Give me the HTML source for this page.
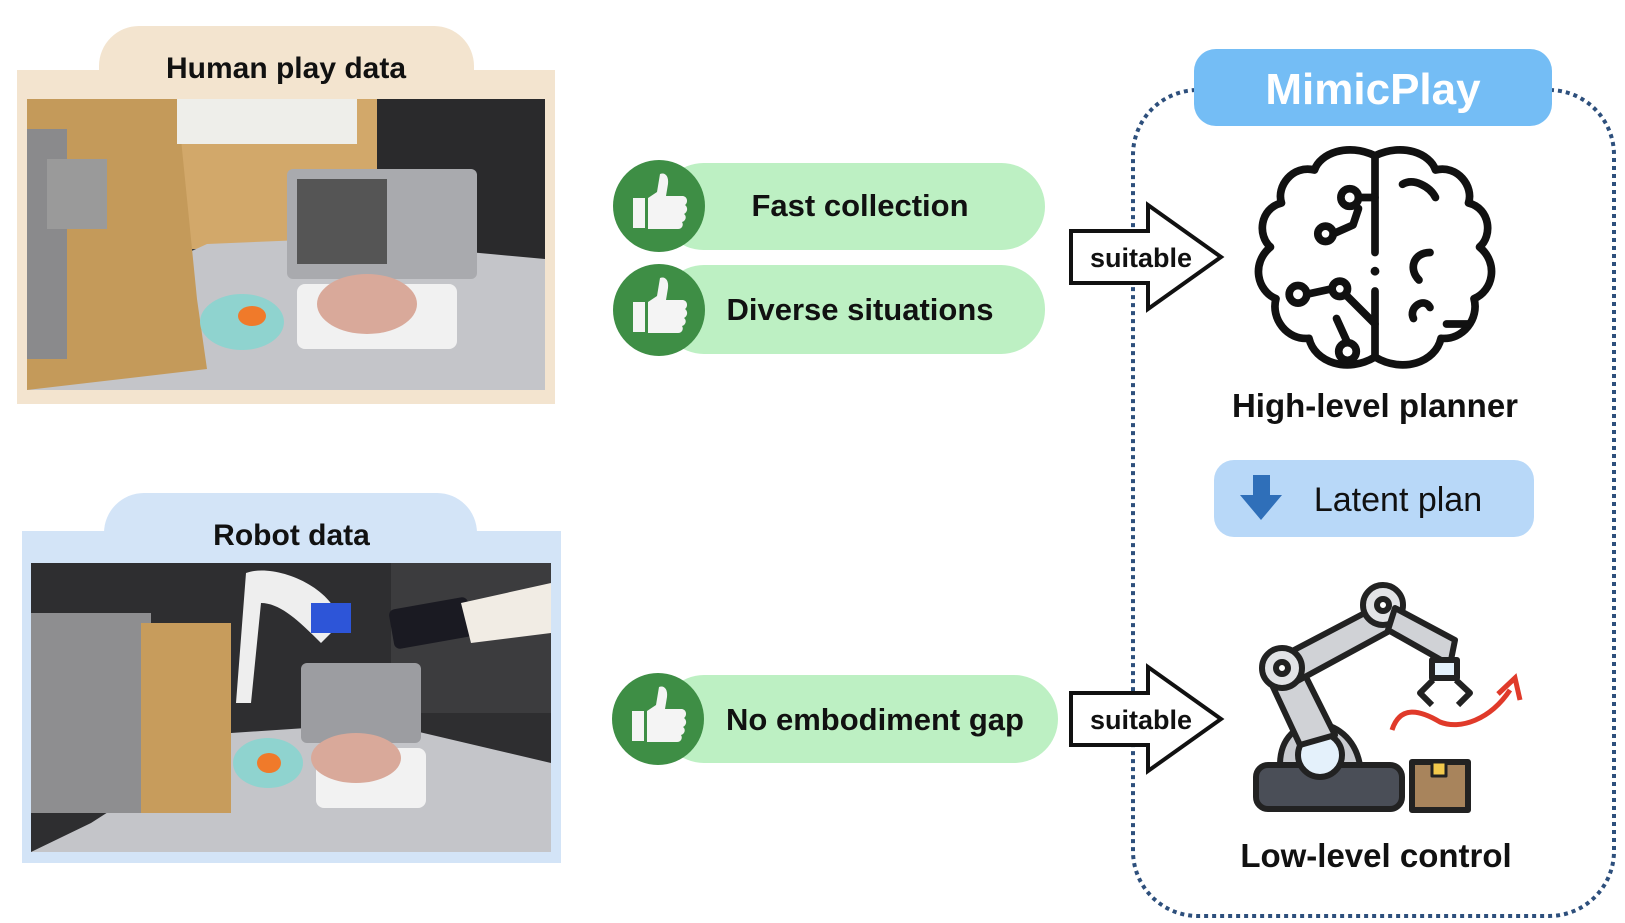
<!DOCTYPE html>
<html><head><meta charset="utf-8"><style>
body{margin:0;width:1625px;height:923px;background:#fff;position:relative;overflow:hidden;font-family:"Liberation Sans",sans-serif}
.abs{position:absolute}
.t{font-weight:bold;color:#111;text-align:center;white-space:nowrap}
</style></head><body>

<!-- Human play data -->
<div class="abs" style="left:99px;top:26px;width:375px;height:60px;background:#f3e4cf;border-radius:40px 40px 0 0"></div>
<div class="abs" style="left:17px;top:70px;width:538px;height:334px;background:#f3e4cf"></div>
<div class="abs t" style="left:17px;top:52px;width:538px;font-size:30px">Human play data</div>
<svg class="abs" style="left:27px;top:99px" width="518" height="291" viewBox="0 0 518 291">
<rect width="518" height="291" fill="#3a3a3c"/>
<rect x="140" y="0" width="210" height="150" fill="#d2a86a"/>
<rect x="350" y="0" width="168" height="180" fill="#2a2a2c"/>
<polygon points="0,291 518,291 518,160 300,140 180,145 60,200" fill="#c4c5c9"/>
<polygon points="0,0 150,0 170,200 180,270 0,291" fill="#c49a5a"/>
<rect x="0" y="30" width="40" height="230" fill="#8a8a8c"/>
<rect x="20" y="60" width="60" height="70" fill="#9a9a9a"/>
<rect x="260" y="70" width="190" height="110" fill="#a9aaae" rx="6"/>
<rect x="270" y="80" width="90" height="85" fill="#555"/>
<rect x="270" y="185" width="160" height="65" fill="#f1f1f1" rx="8"/>
<ellipse cx="340" cy="205" rx="50" ry="30" fill="#d9a99a"/>
<ellipse cx="215" cy="223" rx="42" ry="28" fill="#8fd3cf"/>
<ellipse cx="225" cy="217" rx="14" ry="10" fill="#f07a2a"/>
<rect x="150" y="0" width="180" height="45" fill="#eeeeea"/>
</svg>

<!-- Robot data -->
<div class="abs" style="left:104px;top:493px;width:373px;height:60px;background:#d3e4f7;border-radius:40px 40px 0 0"></div>
<div class="abs" style="left:22px;top:531px;width:539px;height:332px;background:#d3e4f7"></div>
<div class="abs t" style="left:22px;top:519px;width:539px;font-size:30px">Robot data</div>
<svg class="abs" style="left:31px;top:563px" width="520" height="289" viewBox="0 0 520 289">
<rect width="520" height="289" fill="#2e2e30"/>
<rect x="360" y="0" width="160" height="150" fill="#3c3c3e"/>
<polygon points="0,289 520,289 520,200 350,160 200,170 60,260" fill="#c4c5c9"/>
<rect x="0" y="50" width="120" height="200" fill="#8e8e90"/>
<rect x="110" y="60" width="90" height="190" fill="#c79c5c"/>
<path d="M215,10 C240,0 300,20 310,60 L290,80 C270,60 250,40 230,40 L220,140 L205,140 Z" fill="#eeeeee"/>
<rect x="280" y="40" width="40" height="30" fill="#2d55d8"/>
<rect x="270" y="100" width="120" height="80" fill="#9c9da1" rx="6"/>
<rect x="360" y="40" width="80" height="40" fill="#1a1a22" rx="6" transform="rotate(-10 400 60)"/>
<path d="M430,40 L520,20 L520,70 L440,80 Z" fill="#f1ece4"/>
<rect x="285" y="185" width="110" height="60" fill="#f2f2f2" rx="8"/>
<ellipse cx="325" cy="195" rx="45" ry="25" fill="#d9a99a"/>
<ellipse cx="237" cy="200" rx="35" ry="25" fill="#8fd3cf"/>
<ellipse cx="238" cy="200" rx="12" ry="10" fill="#f07a2a"/>
</svg>

<!-- pills -->
<div class="abs" style="left:660px;top:163px;width:385px;height:87px;background:#bdf0c3;border-radius:44px"></div>
<div class="abs" style="left:660px;top:265px;width:385px;height:89px;background:#bdf0c3;border-radius:44px"></div>
<div class="abs" style="left:660px;top:675px;width:398px;height:88px;background:#bdf0c3;border-radius:44px"></div>
<div class="abs t" style="left:700px;top:188px;width:320px;font-size:31px">Fast collection</div>
<div class="abs t" style="left:700px;top:292px;width:320px;font-size:31px">Diverse situations</div>
<div class="abs t" style="left:705px;top:702px;width:340px;font-size:31px">No embodiment gap</div>

<svg class="abs" style="left:0;top:0" width="1625" height="923" viewBox="0 0 1625 923">
<defs>
<g id="thumb">
<circle r="46" fill="#3e8e45"/>
<rect x="-26" y="-8" width="12" height="30" fill="#f4f4f4"/>
<path d="M-11,-8 L-2,-14 L1,-32 C6,-34 10,-30 9,-22 L7,-10 L24,-10 C29,-9 29,-3 26,-1 C29,1 29,6 25,8 C28,10 27,15 23,16 C25,19 23,23 19,23 L-11,23 Z" fill="#f4f4f4"/>
</g>
<g id="arr">
<polygon points="0,26 77,26 77,0 150,52 77,104 77,78 0,78" fill="#fff" stroke="#111" stroke-width="4"/>
<text x="70" y="62" text-anchor="middle" font-family="Liberation Sans" font-weight="bold" font-size="27" fill="#111">suitable</text>
</g>
</defs>
<use href="#thumb" x="659" y="206"/>
<use href="#thumb" x="659" y="310"/>
<use href="#thumb" x="658" y="719"/>

<!-- dashed container -->
<rect x="1133" y="90" width="481" height="826" rx="65" fill="none" stroke="#2d4f7c" stroke-width="4" stroke-dasharray="4 4"/>
<rect x="1194" y="49" width="358" height="77" rx="22" fill="#74bdf5"/>
<text x="1373" y="104" text-anchor="middle" font-family="Liberation Sans" font-weight="bold" font-size="44" fill="#fff">MimicPlay</text>

<use href="#arr" x="1071" y="205"/>
<use href="#arr" x="1071" y="667"/>

<!-- brain -->
<g transform="translate(1375 258) scale(1.1) translate(-1375 -245)">
<g fill="none" stroke="#111" stroke-width="7" stroke-linecap="round" stroke-linejoin="round">
<path d="M1375,152 C1350,140 1325,150 1320,165 C1300,160 1285,180 1290,195 C1270,200 1268,225 1280,235 C1262,250 1268,275 1285,282 C1280,300 1295,320 1315,318 C1320,340 1350,350 1375,335"/>
<path d="M1375,152 C1400,140 1425,150 1430,165 C1450,160 1465,180 1460,195 C1480,200 1482,225 1470,235 C1488,250 1482,275 1465,282 C1470,300 1455,320 1435,318 C1430,340 1400,350 1375,335"/>
<line x1="1375" y1="152" x2="1375" y2="240"/>
<line x1="1375" y1="275" x2="1375" y2="335"/>
<circle cx="1352" cy="190" r="8"/><circle cx="1330" cy="223" r="7"/><circle cx="1305" cy="278" r="8"/><circle cx="1343" cy="273" r="7"/><circle cx="1350" cy="330" r="8"/>
<path d="M1360,190 L1375,190"/><path d="M1337,223 L1355,215 L1360,200"/><path d="M1313,278 L1336,273"/><path d="M1350,280 L1375,305"/><path d="M1350,322 L1340,300"/>
<path d="M1400,178 C1410,172 1425,180 1430,190"/><path d="M1425,240 C1410,240 1405,255 1415,265"/><path d="M1410,300 C1405,290 1420,280 1425,290"/><path d="M1440,305 L1460,305"/>
</g>
<circle cx="1375" cy="257" r="4" fill="#111"/>
</g>
<text x="1375" y="417" text-anchor="middle" font-family="Liberation Sans" font-weight="bold" font-size="33" fill="#111">High-level planner</text>

<rect x="1214" y="460" width="320" height="77" rx="20" fill="#b8d8f8"/>
<path d="M1253,475 L1270,475 L1270,495 L1282,495 L1261,520 L1240,495 L1253,495 Z" fill="#2f6fb9"/>
<text x="1398" y="511" text-anchor="middle" font-family="Liberation Sans" font-size="34" fill="#111">Latent plan</text>

<!-- robot arm -->
<g stroke="#222" stroke-width="6" stroke-linejoin="round">
<rect x="1256" y="765" width="146" height="44" rx="12" fill="#4a4e57"/>
<path d="M1280,765 C1280,710 1350,710 1360,765 Z" fill="#c9cbd0"/>
<circle cx="1320" cy="755" r="22" fill="#e4f1fb"/>
<path d="M1300,745 L1265,670 L1295,655 L1335,735 Z" fill="#d0d2d6"/>
<path d="M1275,660 L1380,605 L1395,628 L1290,685 Z" fill="#d0d2d6"/>
<circle cx="1282" cy="668" r="20" fill="#e2e3e6"/><circle cx="1282" cy="668" r="6" fill="#fff"/>
<circle cx="1383" cy="605" r="20" fill="#e2e3e6"/><circle cx="1383" cy="605" r="6" fill="#fff"/>
<path d="M1395,608 L1455,640 L1450,665 L1388,630 Z" fill="#d0d2d6"/>
<rect x="1432" y="660" width="25" height="18" fill="#e4f1fb"/>
<path d="M1433,680 L1420,693 L1432,705 M1456,680 L1470,693 L1458,705" fill="none"/>
<rect x="1412" y="762" width="56" height="48" fill="#a8845c"/>
<rect x="1432" y="762" width="14" height="14" fill="#f2c94c" stroke-width="3"/>
</g>
<path d="M1392,730 C1400,705 1420,710 1440,722 C1460,730 1490,720 1510,690" fill="none" stroke="#e03a2a" stroke-width="5"/>
<path d="M1498,694 L1515,678 L1520,700" fill="none" stroke="#e03a2a" stroke-width="5"/>
<text x="1376" y="867" text-anchor="middle" font-family="Liberation Sans" font-weight="bold" font-size="33" fill="#111">Low-level control</text>
</svg>
</body></html>
